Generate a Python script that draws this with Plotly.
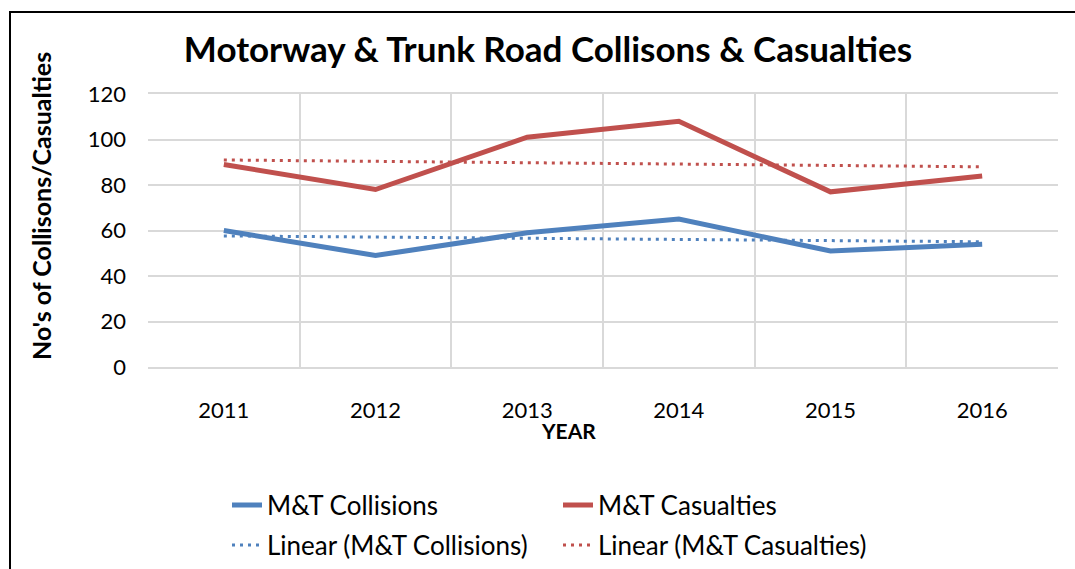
import numpy as np
import plotly.graph_objects as go

# data
years = ["2011", "2012", "2013", "2014", "2015", "2016"]
collisions = [60, 49, 59, 65, 51, 54]
casualties = [89, 78, 101, 108, 77, 84]

BLUE = "#4f81bd"
RED = "#c0504d"
GRID = "#d9d9d9"
FONT = "Lato, Open Sans, sans-serif"


def linear_trend(vals):
    # least-squares line, like Excel's "Linear" trendline
    x = np.arange(len(vals))
    m, c = np.polyfit(x, vals, 1)
    return list(m * x + c)


fig = go.Figure()

fig.add_trace(go.Scatter(x=years, y=collisions, name="M&T Collisions", mode="lines",
                         line=dict(color=BLUE, width=5), legend="legend"))
fig.add_trace(go.Scatter(x=years, y=casualties, name="M&T Casualties", mode="lines",
                         line=dict(color=RED, width=5), legend="legend"))
fig.add_trace(go.Scatter(x=years, y=linear_trend(collisions), name="Linear (M&T Collisions)",
                         mode="lines", line=dict(color=BLUE, width=3, dash="3px,5px"),
                         legend="legend2"))
fig.add_trace(go.Scatter(x=years, y=linear_trend(casualties), name="Linear (M&T Casualties)",
                         mode="lines", line=dict(color=RED, width=3, dash="3px,5px"),
                         legend="legend2"))

W, H = 1075, 569
# plot area in screenshot px: x 148..1058, y 94..367
X0, X1, Y0, Y1 = 148, 1058, 94, 367
pw, ph = X1 - X0, Y1 - Y0


def px_x(p):
    return (p - X0) / pw


def px_y(p):
    return (Y1 - p) / ph


# legends are placed in container coords so they don't push the margins
legend_common = dict(orientation="h", xanchor="left", yanchor="middle",
                     xref="container", yref="container",
                     font=dict(family=FONT, size=26, color="#000"),
                     entrywidth=286, bgcolor="rgba(0,0,0,0)")

fig.update_layout(
    width=W, height=H,
    margin=dict(l=X0, r=W - X1, t=Y0, b=H - Y1, autoexpand=False),
    paper_bgcolor="white", plot_bgcolor="white",
    font=dict(family=FONT, size=22, color="#000"),
    title=dict(text="<b>Motorway & Trunk Road Collisons & Casualties</b>",
               x=px_x(548), xref="paper", xanchor="center",
               y=1 - 50 / H, yanchor="middle",
               font=dict(family=FONT, size=35, color="#000")),
    xaxis=dict(type="category", range=[-0.5, 5.5], tickson="boundaries",
               showgrid=True, gridcolor=GRID, gridwidth=2,
               showline=True, linecolor=GRID, linewidth=2, mirror=True,
               ticks="", ticklabelstandoff=23, tickfont=dict(size=22)),
    yaxis=dict(range=[0, 120], dtick=20, showgrid=True, gridcolor=GRID, gridwidth=2,
               zeroline=False, ticks="", ticklabelstandoff=21, tickfont=dict(size=22)),
    legend=dict(x=227 / W, y=1 - 505 / H, **legend_common),
    legend2=dict(x=227 / W, y=1 - 545 / H, **legend_common),
    annotations=[
        dict(text="<b>YEAR</b>", x=px_x(568), y=px_y(430), xref="paper", yref="paper",
             xanchor="center", yanchor="middle", showarrow=False,
             font=dict(family=FONT, size=21)),
        dict(text="<b>No's of Collisons/Casualties</b>", x=px_x(41), y=px_y(206),
             xref="paper", yref="paper", xanchor="center", yanchor="middle",
             textangle=-90, showarrow=False, font=dict(family=FONT, size=25)),
    ],
    shapes=[
        dict(type="rect", xref="paper", yref="paper",
             x0=px_x(10), x1=px_x(1090), y0=px_y(590), y1=px_y(12),
             line=dict(color="#000", width=2), layer="below"),
    ],
)

# make the page exactly the figure's size (no body margin, no overflow)
page_css = (
    "document.documentElement.style.overflow='hidden';"
    "document.body.style.margin='0';"
    "document.body.style.overflow='hidden';"
)
fig.write_html("out.html", post_script=page_css, config={"displayModeBar": False})
